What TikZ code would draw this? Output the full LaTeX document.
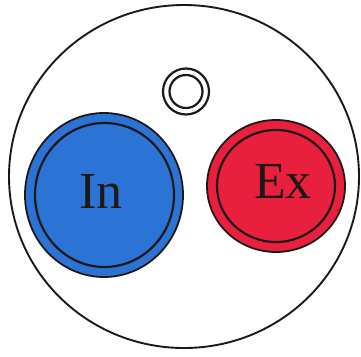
\documentclass[tikz,border=0pt]{standalone}
\usepackage{fontspec}
\setmainfont{Liberation Serif}
\usetikzlibrary{shapes.geometric}
\definecolor{inblue}{RGB}{43,116,214}
\definecolor{exred}{RGB}{232,32,62}
\definecolor{ink}{RGB}{30,25,25}
\tikzset{
  ring/.style={draw=ink, line width=2.2pt},
  lbl/.style={text=ink, font=\fontsize{52}{52}\selectfont, inner sep=0pt}
}
\begin{document}
\begin{tikzpicture}[x=1pt,y=-1pt]
\useasboundingbox[fill=white] (0,0) rectangle (361,356);
% outer disc
\draw[ring, line width=1.9pt] (184,176.5) ellipse [x radius=175, y radius=171.5];
% small double ring
\draw[ring] (186,91.5) circle [radius=23];
\draw[ring] (186,91.5) circle [radius=16.5];
% In
\fill[inblue, draw=ink, line width=1.8pt] (104,195) ellipse [x radius=79, y radius=82];
\draw[ring] (104.5,195) ellipse [x radius=69.5, y radius=72];
\node[lbl] (in) at (101,191) {In};
% Ex
\fill[exred, draw=ink, line width=1.8pt] (276,186) ellipse [x radius=69, y radius=66];
\draw[ring] (276,186) ellipse [x radius=59, y radius=56];
\node[lbl] (ex) at (283,181) {Ex};
\end{tikzpicture}
\end{document}
